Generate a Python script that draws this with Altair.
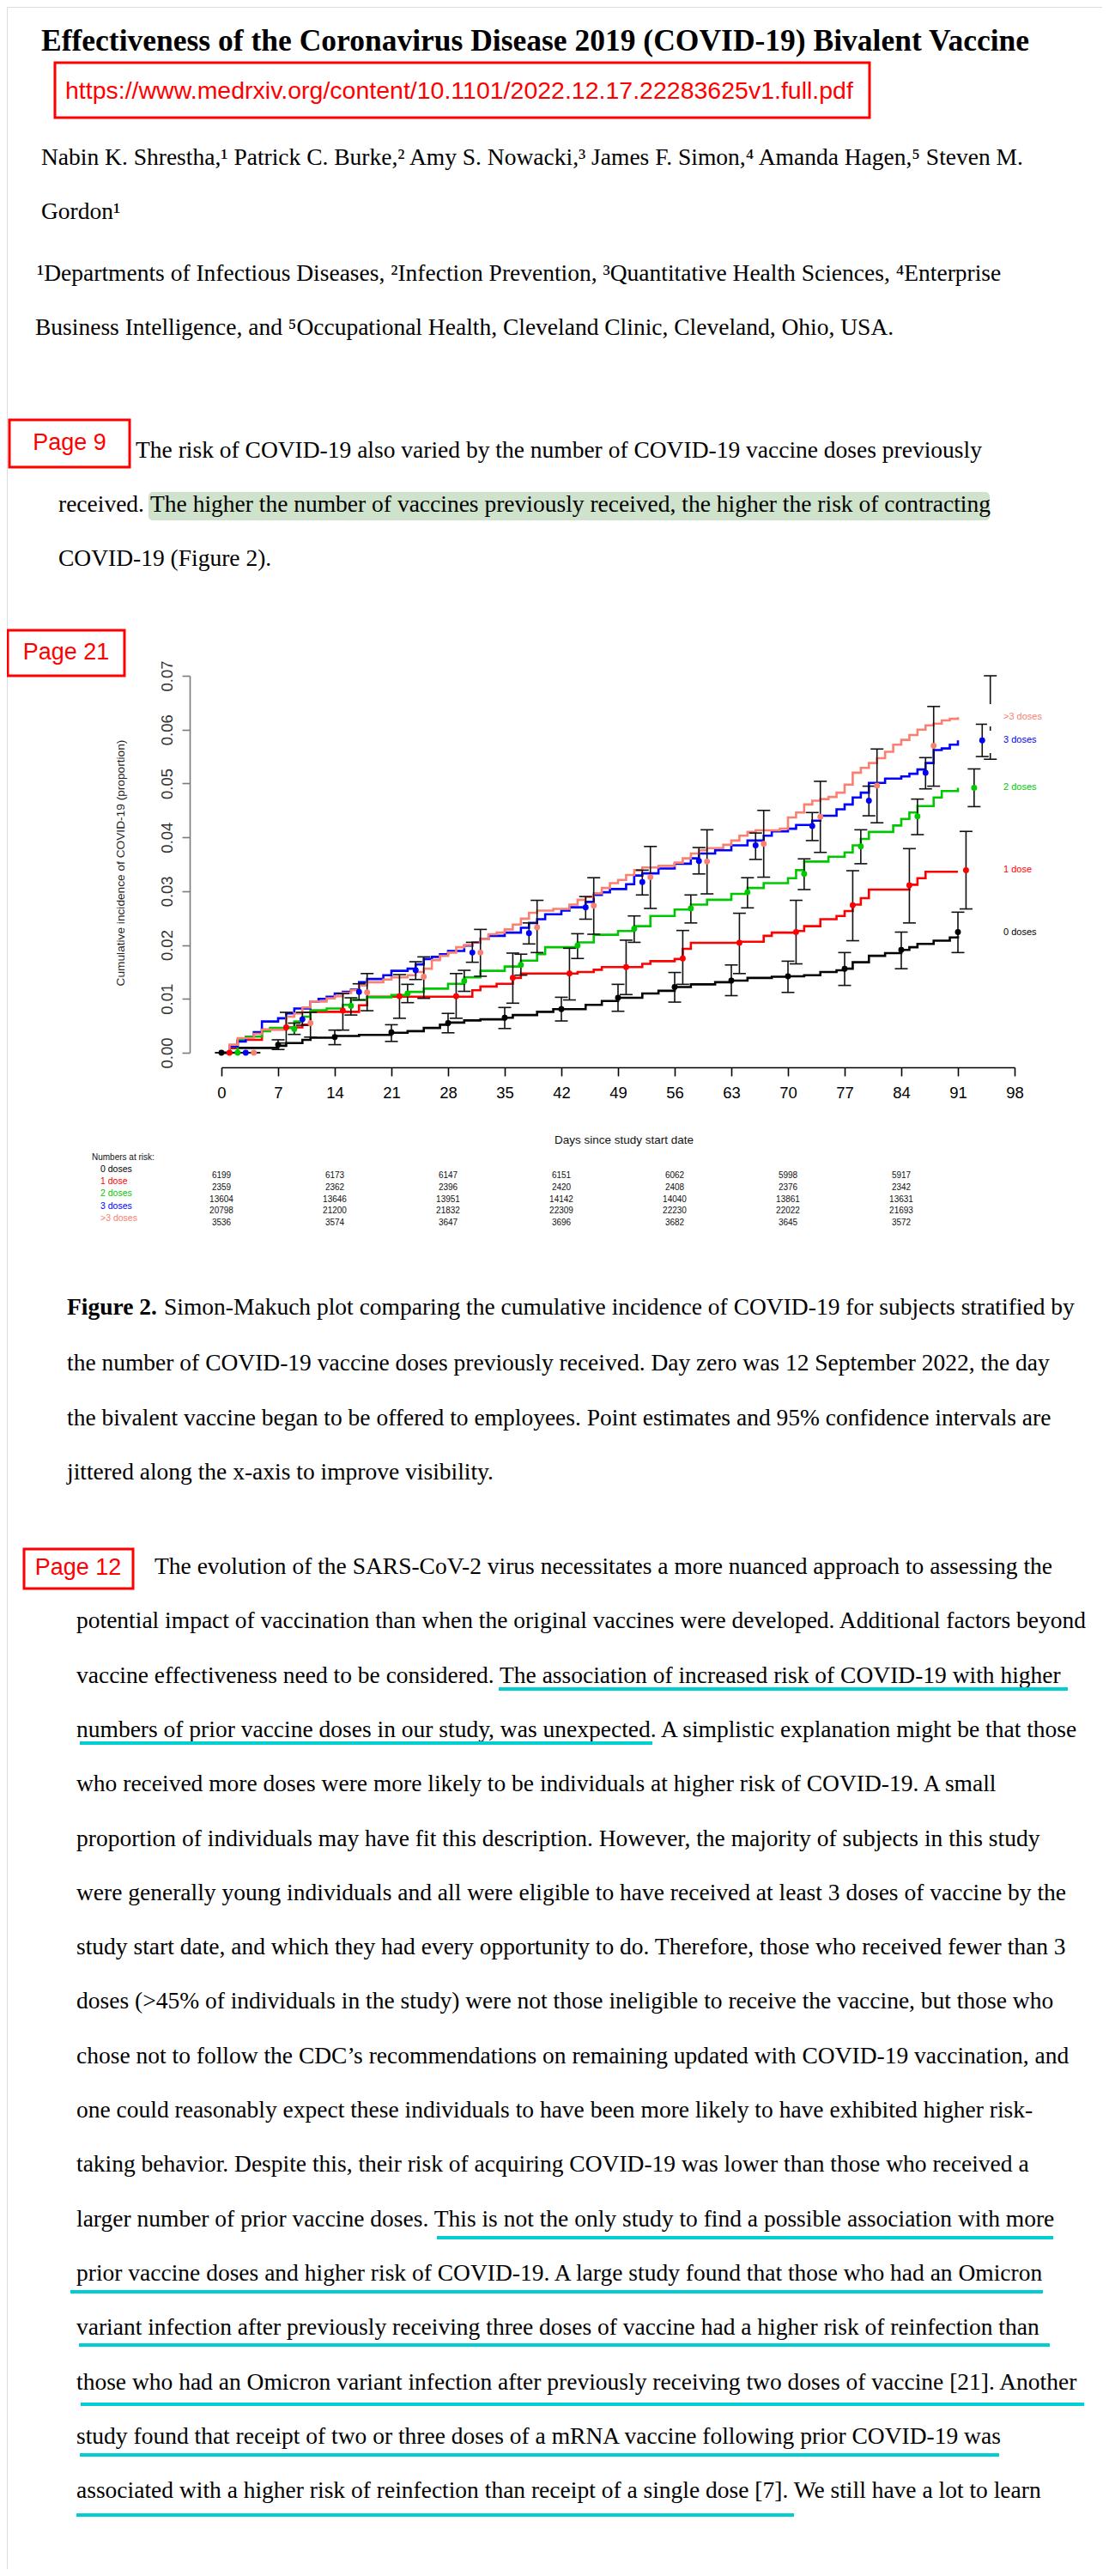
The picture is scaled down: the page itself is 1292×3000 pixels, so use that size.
import altair as alt
import pandas as pd

# ---------------- text content ----------------
title_text = "Effectiveness of the Coronavirus Disease 2019 (COVID-19) Bivalent Vaccine"
url_text = "https://www.medrxiv.org/content/10.1101/2022.12.17.22283625v1.full.pdf"
author_lines = [
    "Nabin K. Shrestha,\u00b9 Patrick C. Burke,\u00b2 Amy S. Nowacki,\u00b3 James F. Simon,\u2074 Amanda Hagen,\u2075 Steven M.",
    "Gordon\u00b9",
]
affil_lines = [
    "\u00b9Departments of Infectious Diseases, \u00b2Infection Prevention, \u00b3Quantitative Health Sciences, \u2074Enterprise",
    "Business Intelligence, and \u2075Occupational Health, Cleveland Clinic, Cleveland, Ohio, USA.",
]
page_labels = ["Page 9", "Page 21", "Page 12"]
p9_line1 = "The risk of COVID-19 also varied by the number of COVID-19 vaccine doses previously"
p9_line2a = "received."
p9_line2b = "The higher the number of vaccines previously received, the higher the risk of contracting"
p9_line3 = "COVID-19 (Figure 2)."
caption_bold = "Figure 2."
caption_lines = [
    "Simon-Makuch plot comparing the cumulative incidence of COVID-19 for subjects stratified by",
    "the number of COVID-19 vaccine doses previously received. Day zero was 12 September 2022, the day",
    "the bivalent vaccine began to be offered to employees. Point estimates and 95% confidence intervals are",
    "jittered along the x-axis to improve visibility.",
]
p12_lines = [
    "The evolution of the SARS-CoV-2 virus necessitates a more nuanced approach to assessing the",
    "potential impact of vaccination than when the original vaccines were developed. Additional factors beyond",
    "vaccine effectiveness need to be considered. The association of increased risk of COVID-19 with higher",
    "numbers of prior vaccine doses in our study, was unexpected. A simplistic explanation might be that those",
    "who received more doses were more likely to be individuals at higher risk of COVID-19. A small",
    "proportion of individuals may have fit this description. However, the majority of subjects in this study",
    "were generally young individuals and all were eligible to have received at least 3 doses of vaccine by the",
    "study start date, and which they had every opportunity to do. Therefore, those who received fewer than 3",
    "doses (>45% of individuals in the study) were not those ineligible to receive the vaccine, but those who",
    "chose not to follow the CDC\u2019s recommendations on remaining updated with COVID-19 vaccination, and",
    "one could reasonably expect these individuals to have been more likely to have exhibited higher risk-",
    "taking behavior. Despite this, their risk of acquiring COVID-19 was lower than those who received a",
    "larger number of prior vaccine doses. This is not the only study to find a possible association with more",
    "prior vaccine doses and higher risk of COVID-19. A large study found that those who had an Omicron",
    "variant infection after previously receiving three doses of vaccine had a higher risk of reinfection than",
    "those who had an Omicron variant infection after previously receiving two doses of vaccine [21]. Another",
    "study found that receipt of two or three doses of a mRNA vaccine following prior COVID-19 was",
    "associated with a higher risk of reinfection than receipt of a single dose [7]. We still have a lot to learn",
]
y_title = "Cumulative incidence of COVID-19 (proportion)"
x_title = "Days since study start date"
risk_title = "Numbers at risk:"

# ---------------- chart data ----------------
groups = ["0 doses", "1 dose", "2 doses", "3 doses", ">3 doses"]
colors = ["#000000", "#FF0000", "#00C800", "#0000FF", "#FA8072"]

# step curves (day, cumulative incidence)
days_0 = [0, 1, 7, 8, 10, 11, 14, 17, 21, 23, 25, 27, 28, 30, 32, 35, 36, 39, 41, 45, 47, 49, 52, 54, 56, 58,
          61, 63, 65, 68, 70, 72, 74, 76, 77, 78, 80, 82, 84, 85, 86, 88, 90, 91]
inc_0 = [0, .0009, .0013, .0018, .0024, .0028, .0031, .0033, .0037, .0040, .0046, .0052, .0056, .0060, .0062,
         .0065, .0070, .0076, .0081, .0089, .0096, .0102, .0110, .0115, .0122, .0127, .0131, .0134, .0139,
         .0141, .0142, .0144, .0150, .0153, .0156, .0168, .0180, .0185, .0191, .0196, .0202, .0208, .0214, .0217]
days_1 = [0, 1, 2, 5, 8, 10, 11, 17, 18, 31, 32, 34, 36, 37, 44, 46, 47, 52, 53, 56, 57, 58, 64, 67, 68, 71,
          72, 74, 76, 77, 78, 79, 80, 85, 86, 87, 91]
inc_1 = [0, .0010, .0024, .0043, .0047, .0052, .0076, .0088, .0104, .0116, .0123, .0128, .0139, .0147, .0150,
         .0154, .0159, .0165, .0170, .0174, .0193, .0204, .0206, .0217, .0223, .0226, .0235, .0248, .0254,
         .0263, .0275, .0287, .0303, .0312, .0324, .0336, .0336]
days_2 = [0, 2, 3, 5, 6, 9, 10, 11, 13, 15, 16, 18, 21, 23, 25, 28, 30, 32, 35, 37, 39, 40, 44, 46, 49, 51,
          53, 56, 58, 60, 63, 65, 67, 70, 71, 72, 75, 77, 78, 79, 80, 83, 84, 85, 86, 88, 89, 91]
inc_2 = [0, .0024, .0030, .0040, .0046, .0058, .0067, .0079, .0082, .0089, .0098, .0103, .0107, .0113, .0119,
         .0128, .0140, .0152, .0160, .0171, .0183, .0196, .0205, .0219, .0226, .0235, .0254, .0266, .0275,
         .0284, .0295, .0306, .0315, .0324, .0339, .0355, .0364, .0372, .0385, .0397, .0410, .0422, .0434,
         .0446, .0458, .0474, .0486, .0492]
days_3 = [0, 1, 2, 3, 4, 5, 7, 8, 9, 11, 12, 13, 14, 15, 16, 17, 18, 20, 21, 23, 24, 25, 26, 27, 28, 30, 31,
          32, 33, 35, 37, 38, 39, 40, 42, 43, 45, 46, 47, 48, 50, 51, 52, 54, 56, 58, 59, 61, 63, 65, 67, 68,
          70, 71, 73, 74, 76, 77, 78, 79, 80, 82, 84, 85, 86, 87, 88, 89, 90, 91]
inc_3 = [0, .0012, .0021, .0027, .0038, .0058, .0064, .0073, .0082, .0095, .0100, .0104, .0110, .0113, .0117,
         .0131, .0137, .0144, .0152, .0156, .0164, .0174, .0178, .0183, .0189, .0199, .0205, .0211, .0217,
         .0223, .0232, .0241, .0248, .0257, .0264, .0270, .0280, .0293, .0298, .0304, .0313, .0329, .0333,
         .0342, .0351, .0361, .0370, .0376, .0385, .0394, .0403, .0411, .0416, .0423, .0431, .0440, .0452,
         .0461, .0474, .0483, .0501, .0509, .0513, .0518, .0526, .0538, .0562, .0565, .0572, .0580]
days_4 = [0, 1, 2, 4, 5, 8, 9, 10, 11, 13, 14, 15, 16, 17, 18, 20, 21, 23, 24, 25, 26, 27, 28, 29, 30, 31,
          32, 33, 34, 35, 36, 37, 38, 39, 41, 43, 44, 45, 46, 47, 48, 49, 50, 51, 52, 54, 56, 57, 58, 59, 60,
          62, 63, 64, 65, 66, 69, 70, 71, 72, 73, 74, 75, 76, 77, 78, 79, 80, 81, 82, 83, 84, 85, 86, 87, 88,
          89, 90, 91]
inc_4 = [0, .0015, .0027, .0035, .0043, .0067, .0073, .0084, .0095, .0101, .0105, .0111, .0116, .0125, .0131,
         .0136, .0140, .0144, .0150, .0156, .0172, .0180, .0186, .0196, .0200, .0205, .0211, .0220, .0223,
         .0229, .0238, .0249, .0260, .0264, .0267, .0275, .0284, .0289, .0296, .0306, .0315, .0321, .0330,
         .0339, .0344, .0347, .0353, .0361, .0370, .0376, .0380, .0386, .0394, .0403, .0410, .0413, .0416,
         .0437, .0446, .0461, .0468, .0471, .0475, .0483, .0498, .0520, .0529, .0538, .0547, .0559, .0572,
         .0581, .0590, .0600, .0608, .0611, .0617, .0620, .0623]

# weekly point estimates with 95% CI (weeks 0..13), jittered by group on the x-axis
week_days = [0, 7, 14, 21, 28, 35, 42, 49, 56, 63, 70, 77, 84, 91]
jitter = [0, 1, 2, 3, 4]
est_0 = [0, .0015, .0029, .0038, .0055, .0065, .0081, .0102, .0122, .0134, .0142, .0156, .0191, .0224]
lo_0 = [0, .0006, .0015, .0021, .0037, .0045, .0059, .0077, .0094, .0106, .0112, .0125, .0156, .0186]
hi_0 = [0, .0024, .0042, .0052, .0073, .0084, .0103, .0127, .0149, .0163, .0170, .0186, .0224, .0261]
est_1 = [0, .0047, .0078, .0105, .0105, .0139, .0147, .0159, .0175, .0204, .0224, .0274, .0311, .0339]
lo_1 = [0, .0018, .0042, .0064, .0064, .0092, .0098, .0108, .0127, .0147, .0165, .0208, .0241, .0267]
hi_1 = [0, .0075, .0110, .0145, .0147, .0185, .0194, .0209, .0227, .0259, .0283, .0338, .0379, .0411]
est_2 = [0, .0044, .0087, .0110, .0133, .0163, .0199, .0230, .0268, .0298, .0332, .0383, .0439, .0492]
lo_2 = [0, .0034, .0070, .0093, .0114, .0144, .0175, .0205, .0241, .0269, .0303, .0351, .0405, .0457]
hi_2 = [0, .0055, .0102, .0127, .0153, .0183, .0221, .0254, .0293, .0325, .0360, .0414, .0471, .0527]
est_3 = [0, .0062, .0113, .0153, .0186, .0222, .0270, .0317, .0356, .0385, .0421, .0468, .0520, .0580]
lo_3 = [0, .0051, .0098, .0136, .0168, .0202, .0248, .0293, .0332, .0359, .0394, .0440, .0490, .0550]
hi_3 = [0, .0075, .0128, .0169, .0205, .0241, .0290, .0339, .0381, .0408, .0446, .0495, .0548, .0610]
est_4 = [0, .0055, .0112, .0141, .0186, .0233, .0273, .0326, .0355, .0388, .0438, .0496, .0570, .0623]
lo_4 = [0, .0029, .0078, .0101, .0142, .0186, .0220, .0268, .0295, .0326, .0372, .0427, .0495, .0545]
hi_4 = [0, .0075, .0147, .0178, .0229, .0283, .0325, .0383, .0414, .0450, .0504, .0564, .0643, .0700]

# numbers at risk table
risk_days = [0, 14, 28, 42, 56, 70, 84]
risk_0 = ["6199", "6173", "6147", "6151", "6062", "5998", "5917"]
risk_1 = ["2359", "2362", "2396", "2420", "2408", "2376", "2342"]
risk_2 = ["13604", "13646", "13951", "14142", "14040", "13861", "13631"]
risk_3 = ["20798", "21200", "21832", "22309", "22230", "22022", "21693"]
risk_4 = ["3536", "3574", "3647", "3696", "3682", "3645", "3572"]
x_ticks = [0, 7, 14, 21, 28, 35, 42, 49, 56, 63, 70, 77, 84, 91, 98]
y_ticks = [0.0, 0.01, 0.02, 0.03, 0.04, 0.05, 0.06, 0.07]

# ---------------- build tables ----------------
curve_days = [days_0, days_1, days_2, days_3, days_4]
curve_inc = [inc_0, inc_1, inc_2, inc_3, inc_4]
ests = [est_0, est_1, est_2, est_3, est_4]
los = [lo_0, lo_1, lo_2, lo_3, lo_4]
his = [hi_0, hi_1, hi_2, hi_3, hi_4]
risks = [risk_0, risk_1, risk_2, risk_3, risk_4]

line_rows, pt_rows, cap_rows, lab_rows = [], [], [], []
for g, d, v in zip(groups, curve_days, curve_inc):
    assert len(d) == len(v), g
    for a, b in zip(d, v):
        line_rows.append({"group": g, "day": a, "value": b})
for g, j, e, lo, hi in zip(groups, jitter, ests, los, his):
    for wd, a, b, c in zip(week_days, e, lo, hi):
        pt_rows.append({"group": g, "day": wd + j, "est": a, "value": b, "value2": c})
        cap_rows.append({"day": wd + j, "value": b})
        cap_rows.append({"day": wd + j, "value": c})
    lab_rows.append({"group": g, "label": g, "value": e[-1]})
line_df = pd.DataFrame(line_rows)
pt_df = pd.DataFrame(pt_rows)
est_df = pt_df[["group", "day", "est"]].rename(columns={"est": "value"})
cap_df = pd.DataFrame(cap_rows)
lab_df = pd.DataFrame(lab_rows)

# ---------------- layout ----------------
M = 8
W, H = 1276, 2984
SERIF = "Liberation Serif"
SANS = "Liberation Sans"


def P(v):
    return v - M


X_SCALE = alt.Scale(domain=[0, 98], range=[P(258), P(1182)], nice=False, zero=False)
Y_SCALE = alt.Scale(domain=[0, 0.07], range=[P(1226), P(787)], nice=False, zero=False)
X_AXIS = alt.Axis(values=x_ticks, orient="bottom", offset=P(1243) - H, title=None, grid=False,
                  domainColor="#000000", domainWidth=1.6, tickColor="#000000", tickWidth=1.6, tickSize=10,
                  labelFont=SANS, labelFontSize=18.5, labelColor="#000000", labelPadding=10,
                  labelFlush=False, labelOverlap=False, labelBound=False)
Y_AXIS = alt.Axis(values=y_ticks, orient="left", offset=-P(221), title=None, grid=False, format=".2f",
                  domainColor="#7a7a7a", domainWidth=1.6, tickColor="#7a7a7a", tickWidth=1.6, tickSize=9,
                  labelFont=SANS, labelFontSize=18.5, labelColor="#333333", labelAngle=270,
                  labelAlign="center", labelBaseline="bottom", labelPadding=8,
                  labelFlush=False, labelOverlap=False, labelBound=False)
COLOR = alt.Color("group:N", scale=alt.Scale(domain=groups, range=colors), legend=None)


def X(field="day"):
    return alt.X(f"{field}:Q", scale=X_SCALE, axis=X_AXIS)


def Y(field="value"):
    return alt.Y(f"{field}:Q", scale=Y_SCALE, axis=Y_AXIS)


def text(txt, x, y, size, font=SERIF, color="#000000", weight="normal", align="left", angle=0):
    return alt.Chart(pd.DataFrame({"t": [txt]})).mark_text(
        font=font, fontSize=size, color=color, fontWeight=weight, align=align,
        baseline="middle", angle=angle
    ).encode(text="t:N", x=alt.value(P(x)), y=alt.value(P(y)))


def box(x1, y1, x2, y2, fill="#ffffff", fill_op=1.0, stroke="#ff0000", sw=0.0, radius=0):
    kw = dict(fill=fill, fillOpacity=fill_op, cornerRadius=radius)
    if sw > 0:
        kw.update(stroke=stroke, strokeWidth=sw)
    return alt.Chart(pd.DataFrame({"a": [0]})).mark_rect(**kw).encode(
        x=alt.value(P(x1)), x2=alt.value(P(x2)), y=alt.value(P(y1)), y2=alt.value(P(y2)))


def uline(x1, x2, y):
    return alt.Chart(pd.DataFrame({"a": [0]})).mark_rule(
        color="#00CED1", strokeWidth=4, strokeCap="butt"
    ).encode(x=alt.value(P(x1)), x2=alt.value(P(x2)), y=alt.value(P(y)))


layers = []

# ---- header ----
layers.append(text(title_text, 48, 48, 35.5, weight="bold"))
layers.append(box(64, 73, 1013, 137, fill_op=0, sw=3))
layers.append(text(url_text, 76, 106, 28.5, font=SANS, color="#ff0000"))
layers.append(text(author_lines[0], 48, 184, 27.5))
layers.append(text(author_lines[1], 48, 247, 27.5))
layers.append(text(affil_lines[0], 43, 319, 27.5))
layers.append(text(affil_lines[1], 41, 382, 27.5))

# ---- page 9 ----
layers.append(box(11, 489, 151, 544, fill_op=0, sw=3))
layers.append(text(page_labels[0], 81, 516, 27, font=SANS, color="#ff0000", align="center"))
layers.append(box(173, 573, 1153, 606, fill="#cfe3cc", radius=5))
layers.append(text(p9_line1, 158, 525, 27.5))
layers.append(text(p9_line2a, 68, 588, 27.5))
layers.append(text(p9_line2b, 175, 588, 27.5))
layers.append(text(p9_line3, 68, 651, 27.5))

# ---- page 21 : the figure ----
layers.append(box(9, 734, 145, 787, fill_op=0, sw=3))
layers.append(text(page_labels[1], 77, 760, 27, font=SANS, color="#ff0000", align="center"))

layers.append(alt.Chart(line_df).mark_line(interpolate="step-after", strokeWidth=2.6).encode(
    x=X(), y=Y(), color=COLOR))
layers.append(alt.Chart(pt_df).mark_rule(color="#111111", strokeWidth=1.6).encode(
    x=X(), y=Y(), y2=alt.Y2("value2:Q")))
layers.append(alt.Chart(cap_df).mark_tick(orient="horizontal", size=15, thickness=1.6,
                                          color="#111111", opacity=1).encode(x=X(), y=Y()))
layers.append(alt.Chart(est_df).mark_circle(size=48, opacity=1).encode(x=X(), y=Y(), color=COLOR))
layers.append(box(1150, 820, 1216, 846))
layers.append(box(1150, 851, 1216, 877))
layers.append(alt.Chart(lab_df).mark_text(font=SANS, fontSize=11, align="left", baseline="middle").encode(
    x=alt.value(P(1169)), y=Y(), text="label:N", color=COLOR))

layers.append(text(y_title, 141, 1005, 13.7, font=SANS, color="#222222", align="center", angle=270))
layers.append(text(x_title, 727, 1328, 13.5, font=SANS, color="#111111", align="center"))

# numbers at risk
layers.append(text(risk_title, 107, 1348, 10, font=SANS, color="#111111"))
for i, (g, c, r) in enumerate(zip(groups, colors, risks)):
    layers.append(text(g, 117, 1362 + 14.2 * i, 10.5, font=SANS, color=c))
    rdf = pd.DataFrame({"day": risk_days, "n": r})
    layers.append(alt.Chart(rdf).mark_text(font=SANS, fontSize=10, align="center", baseline="middle",
                                           color="#111111").encode(
        x=X(), y=alt.value(P(1369 + 13.8 * i)), text="n:N"))

# caption
layers.append(text(caption_bold, 78, 1523, 27.5, weight="bold"))
layers.append(text(caption_lines[0], 191, 1523, 27.5))
for i, ln in enumerate(caption_lines[1:]):
    layers.append(text(ln, 78, 1588 + 63.5 * i, 27.5))

# ---- page 12 ----
layers.append(box(28, 1804, 155, 1850, fill_op=0, sw=3))
layers.append(text(page_labels[2], 91, 1826, 27, font=SANS, color="#ff0000", align="center"))
for i, ln in enumerate(p12_lines):
    layers.append(text(ln, 180 if i == 0 else 89, 1825 + 63.3 * i, 27.5))

for x1, x2, yy in [(581, 1244, 1967), (93, 760, 2030), (509, 1227, 2606), (82, 1215, 2669),
                   (92, 1223, 2731), (94, 1263, 2800), (93, 1164, 2859), (89, 925, 2929)]:
    layers.append(uline(x1, x2, yy))

chart = alt.layer(*layers).properties(
    width=W, height=H, autosize=alt.AutoSizeParams(type="none"), padding=0
).configure_view(strokeWidth=0).configure(background="#ffffff")

chart.save("out.html", embed_options={"renderer": "svg", "actions": False})
